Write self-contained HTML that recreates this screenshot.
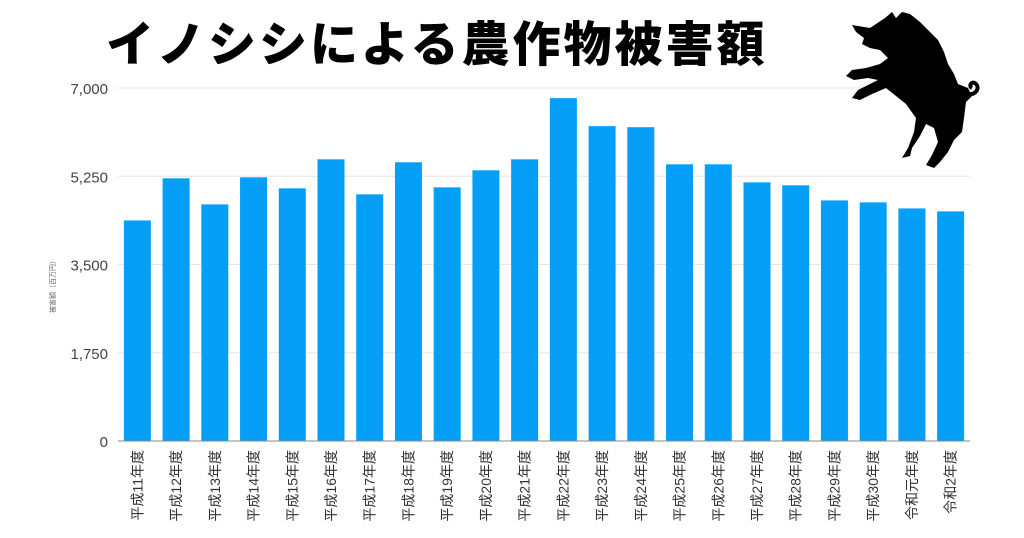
<!DOCTYPE html>
<html><head><meta charset="utf-8"><style>
body{margin:0;background:#fff;width:1024px;height:538px;overflow:hidden;position:relative;font-family:"Liberation Sans","Noto Sans CJK JP",sans-serif}
#title{position:absolute;left:106px;top:5px;font-size:48px;font-weight:900;color:#000;letter-spacing:3px;font-family:"Noto Sans CJK JP",sans-serif;white-space:nowrap}
</style></head><body>
<div id="title">イノシシによる農作物被害額</div>
<svg id="chart" width="1024" height="538" style="position:absolute;left:0;top:0"></svg>
<svg width="194" height="180" viewBox="0 0 194 180" style="position:absolute;left:830px;top:0px">
<path fill="#000" d="M22,25 L40,28 L55,18 L62,12 L66,18 L72,12 L80,14 L90,22 L100,32 L108,40 L114,52 L118,64 L124,74 L128,84 L138,88 L142,96 L136,102 L134,118 L132,132 L124,140 L118,152 L110,162 L104,168 L96,165 L102,155 L108,142 L104,128 L96,124 L90,136 L82,148 L80,156 L72,158 L78,148 L84,132 L86,118 L76,104 L66,96 L56,88 L42,94 L30,100 L22,98 L28,90 L40,84 L48,80 L38,78 L24,80 L16,76 L22,70 L36,68 L50,64 L58,58 L50,50 L40,48 L32,44 L34,38 L26,32 Z"/>
<path fill="none" stroke="#000" stroke-width="4" d="M136,94 C146,96 150,88 146,84 C142,80 138,86 142,88"/>
</svg>
<script>
const categories=["平成11年度","平成12年度","平成13年度","平成14年度","平成15年度","平成16年度","平成17年度","平成18年度","平成19年度","平成20年度","平成21年度","平成22年度","平成23年度","平成24年度","平成25年度","平成26年度","平成27年度","平成28年度","平成29年度","平成30年度","令和元年度","令和2年度"];
const values=[4374,5209,4692,5229,5010,5586,4891,5527,5030,5368,5586,6799,6243,6223,5487,5487,5129,5070,4771,4732,4612,4553];
const ticks=[0,1750,3500,5250,7000];
const tickLabels=["0","1,750","3,500","5,250","7,000"];
const NS="http://www.w3.org/2000/svg";
const svg=document.getElementById('chart');
const x0=118,x1=970,y0=441,yTop=88,maxV=7000;
const step=(x1-x0)/categories.length,bw=27;
const y=v=>y0-(v/maxV)*(y0-yTop);
const xc=i=>x0+step*(i+0.5);
function mk(t,a){const e=document.createElementNS(NS,t);for(const k in a)e.setAttribute(k,a[k]);svg.appendChild(e);return e;}
ticks.forEach((t,i)=>{
 if(t>0){const g=mk('line',{x1:x0,x2:x1,y1:y(t),y2:y(t),stroke:'#e6e6e6','stroke-width':1});
 
 }
 const l=mk('text',{x:108,y:y(t)+6,'text-anchor':'end','font-size':15,fill:'#444'});
 l.textContent=tickLabels[i];
 
 
});
const yt=mk('text',{x:0,y:0,'font-size':7,fill:'#666','text-anchor':'middle',transform:'translate(55,285) rotate(-90)'});
yt.textContent='被害額（百万円）';


values.forEach((v,i)=>{
 const r=mk('rect',{x:xc(i)-bw/2,y:y(v),width:bw,height:y0-y(v),fill:'#059ff8'});
 
 
 const t=mk('text',{x:0,y:0,'font-size':14,fill:'#333','text-anchor':'end',transform:`translate(${xc(i)+5},450) rotate(-90)`});
 t.textContent=categories[i];
 
 
});
const ax=mk('line',{x1:x0,x2:x1,y1:y0,y2:y0,stroke:'#888','stroke-width':1});


</script>
</body></html>
